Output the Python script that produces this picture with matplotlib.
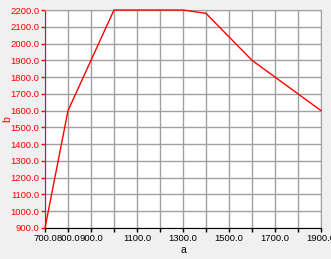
import matplotlib
matplotlib.use("Agg")
import matplotlib.pyplot as plt

a = [700, 800, 900, 1000, 1100, 1200, 1300, 1400, 1500, 1600, 1700, 1800, 1900]
b = [900, 1600, 1900, 2200, 2200, 2200, 2200, 2180, 2040, 1900, 1800, 1700, 1600]

x_ticks = list(range(700, 2000, 100))
x_labels = ["700.0", "800.0", "900.0", "", "1100.0", "", "1300.0", "",
            "1500.0", "", "1700.0", "", "1900.0"]
y_ticks = list(range(900, 2300, 100))

plt.rcParams['font.family'] = ['Liberation Sans', 'DejaVu Sans']

fig = plt.figure(figsize=(3.31, 2.59), dpi=100, facecolor="#f0f0f0")
ax = fig.add_axes([45 / 331, 31 / 259, 276 / 331, 218 / 259])
ax.set_facecolor("white")

ax.plot(a, b, color="red", linewidth=1.0, clip_on=False, zorder=3)

ax.set_xlim(700, 1900)
ax.set_ylim(900, 2200)
ax.set_xticks(x_ticks)
ax.set_xticklabels(x_labels)
ax.set_yticks(y_ticks)
ax.set_yticklabels(["%.1f" % v for v in y_ticks])

ax.grid(True, color="#a0a0a0", linewidth=1.0)
ax.set_axisbelow(True)

for s in ["top", "right"]:
    ax.spines[s].set_color("#a0a0a0")
ax.spines["left"].set_color("red")
ax.spines["bottom"].set_color("black")

ax.tick_params(axis="x", direction="out", length=3, width=1, colors="black",
               labelsize=6.8, pad=1)
ax.tick_params(axis="y", direction="out", length=3, width=1, colors="red",
               labelsize=6.8, pad=1)

ax.set_xlabel("a", fontsize=7.5)
ax.xaxis.set_label_coords(0.5, -17 / 218)
ax.set_ylabel("b", fontsize=7.5, color="red")
ax.yaxis.set_label_coords(-33 / 276, 0.5)

fig.savefig("out.png", dpi=100, facecolor=fig.get_facecolor())
